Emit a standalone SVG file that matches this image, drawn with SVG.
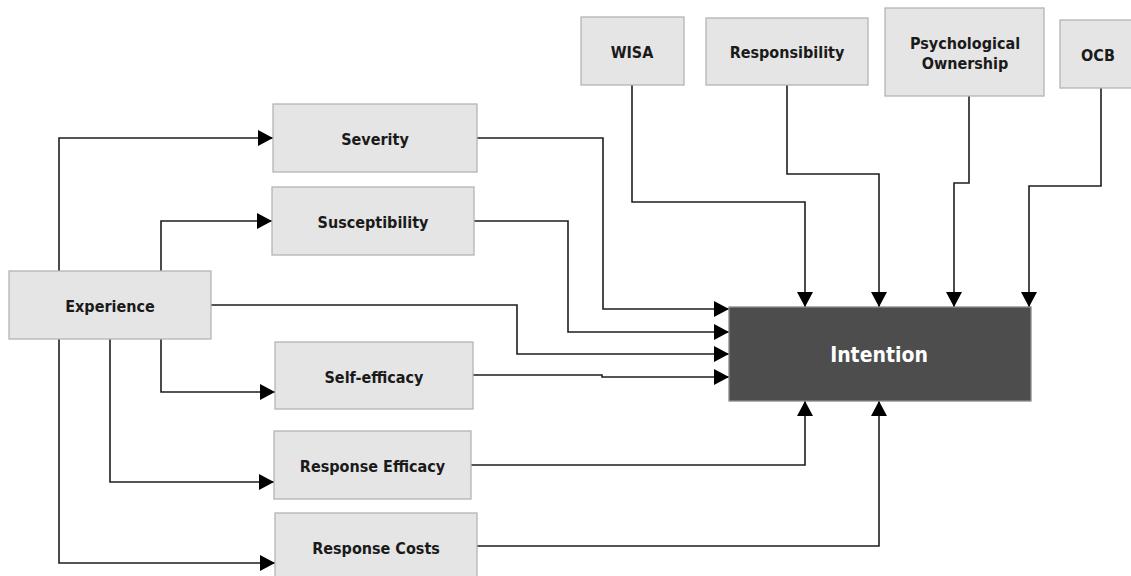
<svg xmlns="http://www.w3.org/2000/svg" width="1131" height="576" viewBox="0 0 1131 576">
  <style>
    .box { fill: #e5e5e5; stroke: #b4b4b4; stroke-width: 1.3; }
    .core { fill: #4d4d4d; stroke: #8a8a8a; stroke-width: 1.3; }
    .lbl { font-family: "DejaVu Sans Condensed", "DejaVu Sans", Verdana, sans-serif; font-stretch: condensed; font-weight: bold; font-size: 16px; fill: #1a1a1a; text-anchor: middle; dominant-baseline: central; }
    .lbl-core { font-family: "DejaVu Sans Condensed", "DejaVu Sans", Verdana, sans-serif; font-stretch: condensed; font-weight: bold; font-size: 21px; fill: #ffffff; text-anchor: middle; dominant-baseline: central; }
    .wire { fill: none; stroke: #1e1e1e; stroke-width: 1.6; marker-end: url(#head); }
  </style>
  <defs>
    <marker id="head" markerUnits="userSpaceOnUse" markerWidth="16" markerHeight="17" refX="15" refY="8" orient="auto">
      <path d="M0,0 L15,8 L0,16 Z" fill="#000"/>
    </marker>
  </defs>
  <rect width="1131" height="576" fill="#ffffff"/>

  <!-- connectors -->
  <g id="connectors">
    <!-- Experience to its antecedent boxes -->
    <path class="wire" d="M59,271 V138 H273"/>
    <path class="wire" d="M161,271 V221 H272"/>
    <path class="wire" d="M161,339 V392 H275"/>
    <path class="wire" d="M110,339 V482 H274"/>
    <path class="wire" d="M59,339 V563 H275"/>
    <!-- into Intention from the left -->
    <path class="wire" d="M477,138 H603 V309 H729"/>
    <path class="wire" d="M474,221 H568 V332 H729"/>
    <path class="wire" d="M211,305 H517 V354 H729"/>
    <path class="wire" d="M473,375 H602 V377 H729"/>
    <!-- into Intention from above -->
    <path class="wire" d="M632,85 V202 H805 V307"/>
    <path class="wire" d="M787,85 V174 H879 V307"/>
    <path class="wire" d="M969,96 V183 H954 V307"/>
    <path class="wire" d="M1101,88 V186 H1029 V307"/>
    <!-- into Intention from below -->
    <path class="wire" d="M471,465 H805 V401"/>
    <path class="wire" d="M476,546 H879 V401"/>
  </g>

  <g id="experience">
    <rect class="box" x="9" y="271" width="202" height="68"/>
    <text class="lbl" x="110" y="306">Experience</text>
  </g>
  <g id="severity">
    <rect class="box" x="273" y="104" width="204" height="68"/>
    <text class="lbl" x="375" y="139">Severity</text>
  </g>
  <g id="susceptibility">
    <rect class="box" x="272" y="187" width="202" height="68"/>
    <text class="lbl" x="373" y="222">Susceptibility</text>
  </g>
  <g id="self-efficacy">
    <rect class="box" x="275" y="342" width="198" height="67"/>
    <text class="lbl" x="374" y="377">Self-efficacy</text>
  </g>
  <g id="response-efficacy">
    <rect class="box" x="274" y="431" width="197" height="68"/>
    <text class="lbl" x="372.5" y="466">Response Efficacy</text>
  </g>
  <g id="response-costs">
    <rect class="box" x="275" y="513" width="202" height="68"/>
    <text class="lbl" x="376" y="548">Response Costs</text>
  </g>
  <g id="wisa">
    <rect class="box" x="581" y="17" width="103" height="68"/>
    <text class="lbl" x="632" y="52">WISA</text>
  </g>
  <g id="responsibility">
    <rect class="box" x="706" y="18" width="162" height="67"/>
    <text class="lbl" x="787" y="52">Responsibility</text>
  </g>
  <g id="psychological-ownership">
    <rect class="box" x="885" y="8" width="159" height="88"/>
    <text class="lbl" x="965" y="43">Psychological</text>
    <text class="lbl" x="965" y="63">Ownership</text>
  </g>
  <g id="ocb">
    <rect class="box" x="1060" y="20" width="82" height="68"/>
    <text class="lbl" x="1098" y="55">OCB</text>
  </g>
  <g id="intention">
    <rect class="core" x="729" y="307" width="302" height="94"/>
    <text class="lbl-core" x="879" y="355">Intention</text>
  </g>
</svg>
